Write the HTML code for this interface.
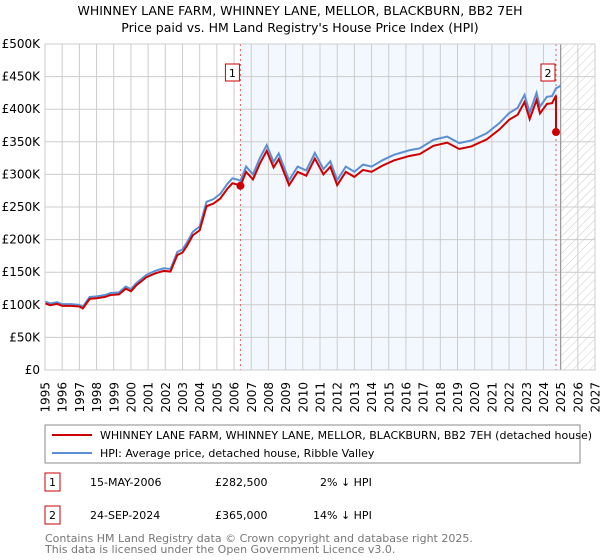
<!DOCTYPE html>
<html><head><meta charset="utf-8"><style>
body{margin:0;background:#fff;font-family:"Liberation Sans","DejaVu Sans",sans-serif;}
svg{display:block}
text{font-family:"DejaVu Sans","Liberation Sans",sans-serif;}
</style></head><body>
<svg id="c" width="600" height="560">
<defs>
<pattern id="hatch" width="6" height="6" patternUnits="userSpaceOnUse" patternTransform="rotate(45)">
<line x1="0" y1="0" x2="0" y2="6" stroke="#ccc" stroke-width="1"/></pattern>
</defs>
<text x="300" y="15" text-anchor="middle" font-size="12.5" fill="#000">WHINNEY LANE FARM, WHINNEY LANE, MELLOR, BLACKBURN, BB2 7EH</text>
<text x="300" y="32" text-anchor="middle" font-size="12.5" fill="#000">Price paid vs. HM Land Registry's House Price Index (HPI)</text>
<g id="plot"></g>
<g>
<rect x="45" y="425" width="535" height="38" fill="#fff" stroke="#888"/>
<line x1="52" y1="435" x2="92" y2="435" stroke="#cc0000" stroke-width="2"/>
<text x="100" y="439" font-size="11">WHINNEY LANE FARM, WHINNEY LANE, MELLOR, BLACKBURN, BB2 7EH (detached house)</text>
<line x1="52" y1="453" x2="92" y2="453" stroke="#5b8fd4" stroke-width="2"/>
<text x="100" y="457" font-size="11">HPI: Average price, detached house, Ribble Valley</text>
</g>
<g font-size="11">
<rect x="45" y="473" width="15" height="18" fill="#fff" stroke="#cc0000"/>
<text x="52.5" y="486" text-anchor="middle">1</text>
<text x="90" y="486">15-MAY-2006</text><text x="215" y="486">£282,500</text><text x="320" y="486">2% ↓ HPI</text>
<rect x="45" y="506" width="15" height="18" fill="#fff" stroke="#cc0000"/>
<text x="52.5" y="519" text-anchor="middle">2</text>
<text x="90" y="519">24-SEP-2024</text><text x="215" y="519">£365,000</text><text x="313" y="519">14% ↓ HPI</text>
</g>
<text x="45" y="542" font-size="11" fill="#777">Contains HM Land Registry data © Crown copyright and database right 2025.</text>
<text x="45" y="553" font-size="11" fill="#777">This data is licensed under the Open Government Licence v3.0.</text>
</svg>
<script>
const hpiYears=[1995,1995.3,1995.7,1996,1996.5,1997,1997.2,1997.6,1998,1998.5,1998.8,1999.3,1999.7,2000,2000.3,2000.9,2001.4,2001.9,2002.3,2002.7,2003,2003.25,2003.6,2004,2004.4,2004.8,2005.2,2005.6,2005.9,2006.2,2006.37,2006.7,2007.1,2007.5,2007.9,2008.3,2008.6,2009.2,2009.7,2010.2,2010.7,2011.2,2011.6,2012,2012.5,2013,2013.5,2014,2014.65,2015.3,2016.2,2016.8,2017.6,2018.4,2019.1,2019.8,2020.7,2021.45,2022,2022.5,2022.9,2023.2,2023.6,2023.8,2024.2,2024.5,2024.73,2025];
const hpiValues=[105,102,104,101,101,100,97,112,113,115,118,119,128,124,133,146,152,156,155,181,185,195,212,220,258,262,270,285,294,292,290,312,300,325,345,319,332,291,312,306,333,308,320,291,312,304,315,312,322,330,337,340,353,358,348,352,363,379,394,402,422,395,425,404,419,420,432,436];
const saleYears=[2006.37,2024.73];
const saleValues=[282.5,365];
const yTicks=[0,50,100,150,200,250,300,350,400,450,500];
const yTickLabels=['£0','£50K','£100K','£150K','£200K','£250K','£300K','£350K','£400K','£450K','£500K'];
const xTicks=[1995,1996,1997,1998,1999,2000,2001,2002,2003,2004,2005,2006,2007,2008,2009,2010,2011,2012,2013,2014,2015,2016,2017,2018,2019,2020,2021,2022,2023,2024,2025,2026,2027];

const X0=45,X1=595,Y0=370,Y1=44;
const xs=y=>X0+(y-1995)/(2027-1995)*(X1-X0);
const ys=v=>Y0-v/500*(Y0-Y1);
const NS='http://www.w3.org/2000/svg';
const g=document.getElementById('plot');
function mk(t,a){const e=document.createElementNS(NS,t);for(const k in a)e.setAttribute(k,a[k]);g.appendChild(e);return e;}
let e;
e=mk('rect',{x:X0,y:Y1,width:X1-X0,height:Y0-Y1,fill:'#fff'});


e=mk('rect',{x:xs(saleYears[0]),y:Y1,width:xs(2025)-xs(saleYears[0]),height:Y0-Y1,fill:'#eef3fd',opacity:0.7});


e=mk('rect',{x:xs(2025),y:Y1,width:X1-xs(2025),height:Y0-Y1,fill:'url(#hatch)'});


yTicks.forEach((v,i)=>{
 e=mk('line',{x1:X0,x2:X1,y1:ys(v),y2:ys(v),stroke:'#ccc','stroke-width':1});
 
 
 e=mk('text',{x:X0-5,y:ys(v)+4,'text-anchor':'end','font-size':'12',fill:'#000'});
 e.textContent=yTickLabels[i];
 
 
});
xTicks.forEach(yr=>{
 e=mk('line',{x1:xs(yr),x2:xs(yr),y1:Y1,y2:Y0,stroke:'#ccc','stroke-width':1});
 
 
 e=mk('text',{x:0,y:0,'text-anchor':'end','font-size':'12',fill:'#000',transform:`translate(${xs(yr)+4.5},${Y0+12}) rotate(-90)`});
 e.textContent=yr;
 
 
});
e=mk('line',{x1:xs(2025),x2:xs(2025),y1:Y1,y2:Y0,stroke:'#999','stroke-width':1.2});


saleYears.forEach(yr=>{
 e=mk('line',{x1:xs(yr),x2:xs(yr),y1:Y1,y2:Y0,stroke:'#e06060','stroke-width':1,'stroke-dasharray':'2,3'});
 
 
});
e=mk('polyline',{points:hpiYears.map((y,i)=>xs(y)+','+ys(hpiValues[i])).join(' '),fill:'none',stroke:'#5b8fd4','stroke-width':2});


function hpiAt(y){for(let i=1;i<hpiYears.length;i++){if(y<=hpiYears[i]){const t=(y-hpiYears[i-1])/(hpiYears[i]-hpiYears[i-1]);return hpiValues[i-1]+t*(hpiValues[i]-hpiValues[i-1]);}}return hpiValues[hpiValues.length-1];}
const r0=saleValues[0]/hpiAt(saleYears[0]);
const pts=[];
hpiYears.forEach((y,i)=>{if(y<=saleYears[1])pts.push([y,hpiValues[i]*r0]);});
pts.push([saleYears[1],hpiAt(saleYears[1])*r0]);
pts.push([saleYears[1],saleValues[1]]);
e=mk('polyline',{points:pts.map(p=>xs(p[0])+','+ys(p[1])).join(' '),fill:'none',stroke:'#cc0000','stroke-width':2});


saleYears.forEach((yr,i)=>{
 e=mk('circle',{cx:xs(yr),cy:ys(saleValues[i]),r:4,fill:'#cc0000'});
 
 
 const bx=xs(yr)-15;
 e=mk('rect',{x:bx,y:64,width:14,height:17,fill:'#fff',stroke:'#cc0000'});
 
 
 e=mk('text',{x:bx+7,y:77,'text-anchor':'middle','font-size':'11',fill:'#000'});
 e.textContent=String(i+1);
 
 
});
e=mk('rect',{x:X0,y:Y1,width:X1-X0,height:Y0-Y1,fill:'none',stroke:'#ccc'});


</script>
</body></html>
